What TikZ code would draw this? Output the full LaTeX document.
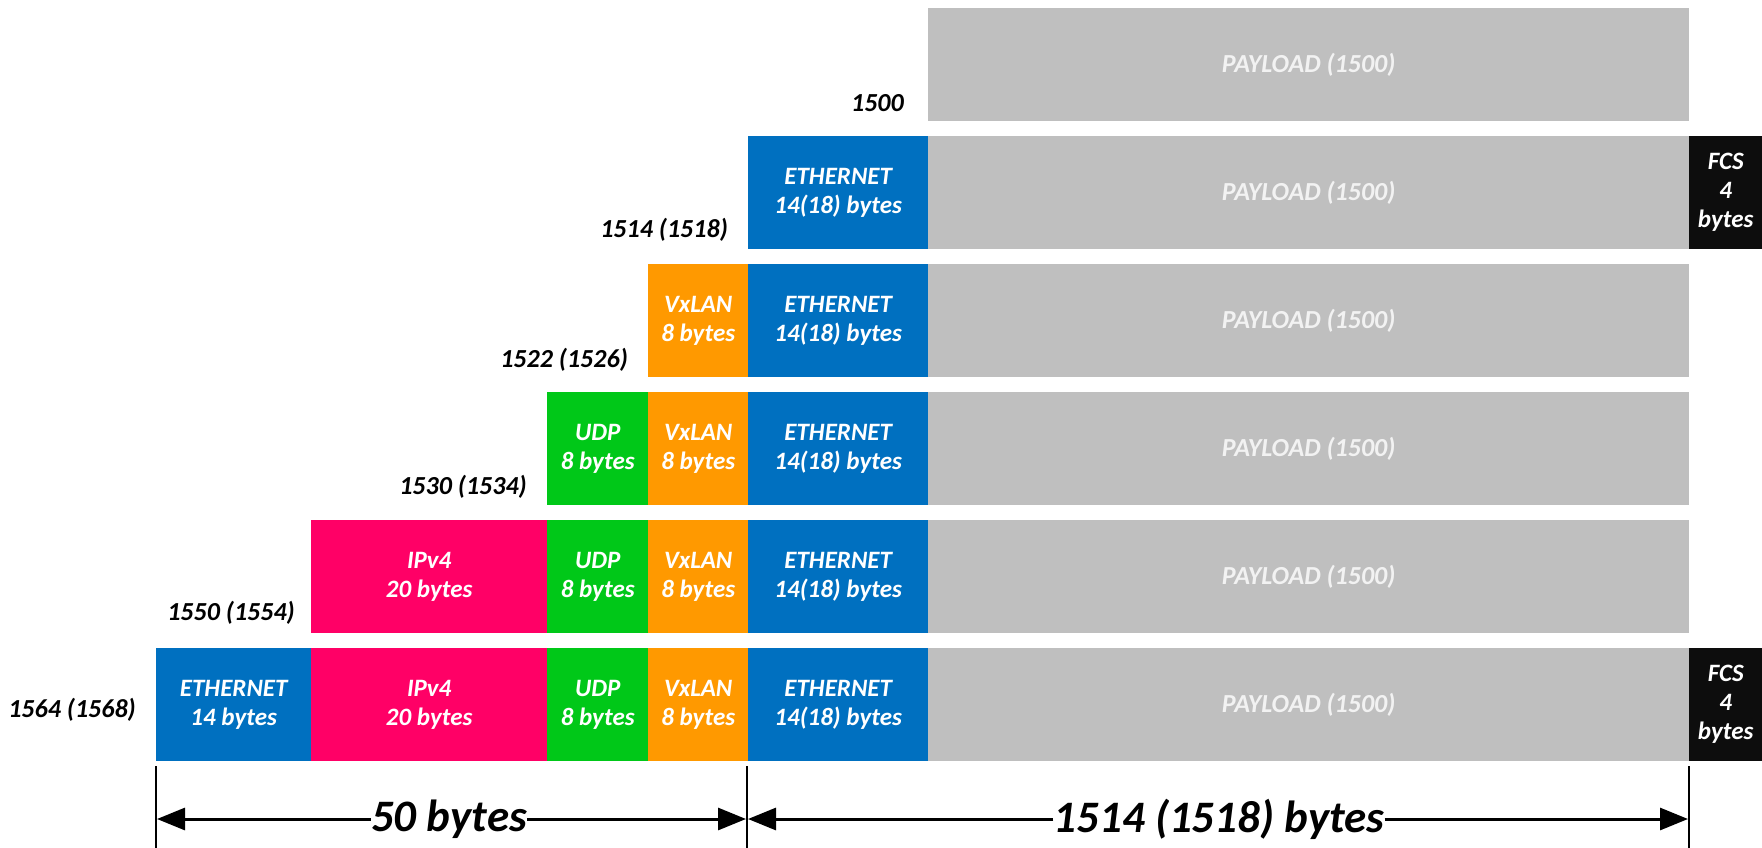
\documentclass[tikz,border=0pt]{standalone}
\usepackage{fontspec}
\setmainfont{Carlito}
\usetikzlibrary{arrows.meta}
\definecolor{ethblue}{HTML}{0070C0}
\definecolor{ippink}{HTML}{FF0066}
\definecolor{udpgreen}{HTML}{00C818}
\definecolor{vxorange}{HTML}{FF9900}
\definecolor{paygray}{HTML}{BFBFBF}
\definecolor{paytext}{HTML}{F2F2F2}
\definecolor{fcsblack}{HTML}{0D0D0D}
\tikzset{
  seg/.style={rectangle, draw=none, anchor=north west, minimum height=113pt, inner sep=0pt,
    text=white, align=center, font=\fontsize{25}{29}\selectfont\bfseries\itshape},
  oeth/.style={seg, fill=ethblue, minimum width=155pt},
  ipv/.style={seg, fill=ippink, minimum width=236pt},
  udp/.style={seg, fill=udpgreen, minimum width=101pt},
  vxl/.style={seg, fill=vxorange, minimum width=100pt},
  ieth/.style={seg, fill=ethblue, minimum width=180pt},
  pay/.style={seg, fill=paygray, minimum width=761pt, text=paytext, font=\fontsize{26}{29}\selectfont\bfseries\itshape},
  fcs/.style={seg, fill=fcsblack, minimum width=73pt},
  sidelbl/.style={anchor=east, inner sep=0pt, text=black, font=\fontsize{26}{29}\selectfont\bfseries\itshape},
  dimlbl/.style={inner sep=0pt, fill=white, text=black, font=\fontsize{45}{50}\selectfont\bfseries\itshape},
  dimarrow/.style={line width=3pt, -{Triangle[length=28pt,width=22pt]}},
  dimtick/.style={line width=2.5pt}
}
\begin{document}
\begin{tikzpicture}[x=1pt,y=-1pt]
\useasboundingbox (0,0) rectangle (1762,848);
% row 1
\node[pay] (p1) at (928,8) {PAYLOAD (1500)};
\node[sidelbl] (s1) at (904,103) {1500};
% row 2
\node[ieth] (e2) at (748,136) {ETHERNET\\14(18) bytes};
\node[pay] (p2) at (928,136) {PAYLOAD (1500)};
\node[fcs] (f2) at (1689,136) {FCS\\4\\bytes};
\node[sidelbl] (s2) at (728,230) {1514 (1518)};
% row 3
\node[vxl] (v3) at (648,264) {VxLAN\\8 bytes};
\node[ieth] (e3) at (748,264) {ETHERNET\\14(18) bytes};
\node[pay] (p3) at (928,264) {PAYLOAD (1500)};
\node[sidelbl] (s3) at (628,360) {1522 (1526)};
% row 4
\node[udp] (u4) at (547,392) {UDP\\8 bytes};
\node[vxl] (v4) at (648,392) {VxLAN\\8 bytes};
\node[ieth] (e4) at (748,392) {ETHERNET\\14(18) bytes};
\node[pay] (p4) at (928,392) {PAYLOAD (1500)};
\node[sidelbl] (s4) at (527,487) {1530 (1534)};
% row 5
\node[ipv] (i5) at (311,520) {IPv4\\20 bytes};
\node[udp] (u5) at (547,520) {UDP\\8 bytes};
\node[vxl] (v5) at (648,520) {VxLAN\\8 bytes};
\node[ieth] (e5) at (748,520) {ETHERNET\\14(18) bytes};
\node[pay] (p5) at (928,520) {PAYLOAD (1500)};
\node[sidelbl] (s5) at (295,613) {1550 (1554)};
% row 6
\node[oeth] (o6) at (156,648) {ETHERNET\\14 bytes};
\node[ipv] (i6) at (311,648) {IPv4\\20 bytes};
\node[udp] (u6) at (547,648) {UDP\\8 bytes};
\node[vxl] (v6) at (648,648) {VxLAN\\8 bytes};
\node[ieth] (e6) at (748,648) {ETHERNET\\14(18) bytes};
\node[pay] (p6) at (928,648) {PAYLOAD (1500)};
\node[fcs] (f6) at (1689,648) {FCS\\4\\bytes};
\node[sidelbl] (s6) at (136,710) {1564 (1568)};
% dimension lines
\coordinate (t1a) at (156,766); \coordinate (t1b) at (156,848);
\coordinate (t2a) at (747,766); \coordinate (t2b) at (747,848);
\coordinate (t3a) at (1689,766); \coordinate (t3b) at (1689,848);
\draw[dimtick] (t1a) -- (t1b);
\draw[dimtick] (t2a) -- (t2b);
\draw[dimtick] (t3a) -- (t3b);
\coordinate (a1) at (157,819);
\coordinate (a2) at (746,819);
\coordinate (a3) at (748,819);
\coordinate (a4) at (1688,819);
\node[dimlbl] (d50) at (449,819) {50 bytes};
\node[dimlbl] (d1514) at (1219,819) {1514 (1518) bytes};
\draw[dimarrow] (d50) -- (a1);
\draw[dimarrow] (d50) -- (a2);
\draw[dimarrow] (d1514) -- (a3);
\draw[dimarrow] (d1514) -- (a4);
\end{tikzpicture}
\end{document}
